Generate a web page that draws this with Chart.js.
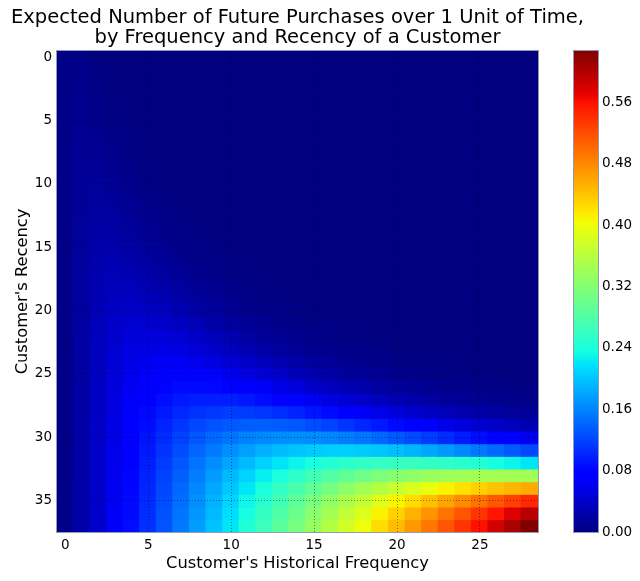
<!DOCTYPE html>
<html><head><meta charset="utf-8">
<script src="https://cdn.jsdelivr.net/npm/chart.js@4.4.1/dist/chart.umd.min.js"></script>
<style>
html,body{margin:0;padding:0;background:#fff;}
#wrap{position:relative;width:640px;height:581px;overflow:hidden;}
#main{position:absolute;left:0;top:0;}
#cbar{position:absolute;left:560px;top:0;}
</style></head><body>
<div id="wrap"><canvas id="main" width="640" height="581"></canvas><canvas id="cbar" width="80" height="581"></canvas></div>
<script>
// Customer's Historical Frequency (columns) and Customer's Recency (rows)
const frequencies = [0,1,2,3,4,5,6,7,8,9,10,11,12,13,14,15,16,17,18,19,20,21,22,23,24,25,26,27,28];
const recencies = [0,1,2,3,4,5,6,7,8,9,10,11,12,13,14,15,16,17,18,19,20,21,22,23,24,25,26,27,28,29,30,31,32,33,34,35,36,37];

// Expected purchases, one array per recency row (frequency 0..28)
const r0  = [.006,.005,.001,0,0,0,0,0,0,0,0,0,0,0,0,0,0,0,0,0,0,0,0,0,0,0,0,0,0];
const r1  = [.006,.006,.002,.001,0,0,0,0,0,0,0,0,0,0,0,0,0,0,0,0,0,0,0,0,0,0,0,0,0];
const r2  = [.006,.007,.003,.001,0,0,0,0,0,0,0,0,0,0,0,0,0,0,0,0,0,0,0,0,0,0,0,0,0];
const r3  = [.006,.008,.004,.001,0,0,0,0,0,0,0,0,0,0,0,0,0,0,0,0,0,0,0,0,0,0,0,0,0];
const r4  = [.006,.009,.005,.002,.001,0,0,0,0,0,0,0,0,0,0,0,0,0,0,0,0,0,0,0,0,0,0,0,0];
const r5  = [.006,.009,.007,.003,.001,0,0,0,0,0,0,0,0,0,0,0,0,0,0,0,0,0,0,0,0,0,0,0,0];
const r6  = [.006,.010,.008,.004,.002,.001,0,0,0,0,0,0,0,0,0,0,0,0,0,0,0,0,0,0,0,0,0,0,0];
const r7  = [.006,.011,.010,.006,.003,.001,0,0,0,0,0,0,0,0,0,0,0,0,0,0,0,0,0,0,0,0,0,0,0];
const r8  = [.006,.012,.011,.007,.004,.002,.001,0,0,0,0,0,0,0,0,0,0,0,0,0,0,0,0,0,0,0,0,0,0];
const r9  = [.006,.012,.013,.009,.005,.002,.001,0,0,0,0,0,0,0,0,0,0,0,0,0,0,0,0,0,0,0,0,0,0];
const r10 = [.006,.013,.015,.011,.007,.003,.002,.001,0,0,0,0,0,0,0,0,0,0,0,0,0,0,0,0,0,0,0,0,0];
const r11 = [.006,.014,.016,.013,.008,.005,.002,.001,.001,0,0,0,0,0,0,0,0,0,0,0,0,0,0,0,0,0,0,0,0];
const r12 = [.006,.014,.018,.016,.011,.007,.004,.002,.001,0,0,0,0,0,0,0,0,0,0,0,0,0,0,0,0,0,0,0,0];
const r13 = [.006,.015,.020,.018,.013,.009,.005,.003,.001,.001,0,0,0,0,0,0,0,0,0,0,0,0,0,0,0,0,0,0,0];
const r14 = [.006,.015,.021,.021,.016,.011,.007,.004,.002,.001,.001,0,0,0,0,0,0,0,0,0,0,0,0,0,0,0,0,0,0];
const r15 = [.006,.016,.023,.023,.020,.015,.010,.006,.004,.002,.001,.001,0,0,0,0,0,0,0,0,0,0,0,0,0,0,0,0,0];
const r16 = [.006,.016,.024,.026,.023,.018,.013,.009,.005,.003,.002,.001,.001,0,0,0,0,0,0,0,0,0,0,0,0,0,0,0,0];
const r17 = [.006,.017,.025,.029,.027,.023,.017,.012,.008,.005,.003,.002,.001,.001,0,0,0,0,0,0,0,0,0,0,0,0,0,0,0];
const r18 = [.006,.017,.027,.032,.031,.027,.022,.016,.011,.008,.005,.003,.002,.001,.001,0,0,0,0,0,0,0,0,0,0,0,0,0,0];
const r19 = [.006,.017,.028,.034,.035,.032,.027,.021,.016,.011,.008,.005,.003,.002,.001,.001,.001,0,0,0,0,0,0,0,0,0,0,0,0];
const r20 = [.006,.018,.029,.037,.039,.038,.034,.028,.021,.016,.011,.008,.005,.004,.002,.002,.001,.001,0,0,0,0,0,0,0,0,0,0,0];
const r21 = [.006,.018,.031,.039,.044,.044,.040,.035,.029,.022,.017,.012,.009,.006,.004,.003,.002,.001,.001,.001,0,0,0,0,0,0,0,0,0];
const r22 = [.006,.019,.032,.042,.048,.050,.048,.043,.037,.031,.024,.019,.014,.010,.007,.005,.004,.003,.002,.001,.001,.001,0,0,0,0,0,0,0];
const r23 = [.006,.019,.033,.044,.052,.055,.056,.053,.047,.041,.034,.027,.021,.016,.012,.009,.007,.005,.004,.003,.002,.001,.001,.001,0,0,0,0,0];
const r24 = [.006,.019,.034,.046,.055,.061,.064,.063,.059,.053,.046,.039,.032,.026,.020,.016,.012,.009,.007,.005,.004,.003,.002,.002,.001,.001,.001,0,0];
const r25 = [.006,.019,.035,.048,.059,.067,.071,.073,.071,.067,.061,.054,.046,.039,.032,.026,.021,.016,.013,.010,.008,.006,.004,.003,.003,.002,.001,.001,.001];
const r26 = [.006,.020,.035,.050,.062,.072,.079,.083,.084,.082,.077,.071,.064,.056,.049,.041,.034,.028,.023,.018,.015,.012,.009,.007,.006,.004,.003,.003,.002];
const r27 = [.006,.020,.036,.052,.065,.077,.086,.093,.096,.097,.096,.092,.086,.079,.071,.063,.054,.047,.040,.033,.028,.023,.019,.015,.012,.010,.008,.006,.005];
const r28 = [.006,.020,.037,.053,.068,.082,.093,.102,.109,.113,.115,.114,.111,.106,.099,.091,.083,.074,.065,.057,.050,.042,.036,.030,.026,.021,.018,.015,.012];
const r29 = [.006,.020,.038,.055,.071,.086,.099,.111,.121,.128,.133,.136,.137,.135,.131,.126,.119,.111,.102,.093,.084,.075,.067,.058,.051,.044,.038,.033,.028];
const r30 = [.006,.021,.039,.056,.073,.090,.105,.119,.131,.142,.151,.158,.162,.165,.166,.164,.161,.156,.150,.142,.133,.124,.115,.105,.095,.086,.077,.069,.061];
const r31 = [.006,.021,.039,.058,.076,.093,.110,.126,.141,.154,.166,.177,.186,.194,.199,.203,.205,.205,.203,.200,.195,.189,.181,.173,.163,.153,.143,.133,.122];
const r32 = [.006,.021,.040,.059,.078,.096,.115,.132,.149,.165,.180,.194,.207,.219,.229,.239,.246,.252,.257,.260,.261,.261,.259,.256,.251,.245,.237,.229,.220];
const r33 = [.006,.021,.040,.060,.080,.099,.119,.137,.156,.174,.192,.208,.225,.240,.255,.269,.281,.293,.304,.314,.322,.329,.335,.340,.343,.345,.345,.344,.342];
const r34 = [.006,.022,.041,.061,.081,.102,.122,.142,.162,.182,.201,.220,.239,.257,.275,.292,.309,.326,.342,.357,.371,.385,.398,.410,.421,.432,.442,.450,.458];
const r35 = [.006,.022,.041,.062,.083,.104,.125,.146,.167,.188,.209,.230,.250,.270,.291,.311,.330,.350,.369,.388,.407,.425,.443,.461,.478,.495,.512,.528,.544];
const r36 = [.006,.022,.042,.063,.084,.106,.128,.150,.171,.193,.215,.237,.259,.280,.302,.324,.345,.367,.388,.410,.431,.452,.473,.494,.515,.536,.556,.577,.597];
const r37 = [.006,.022,.042,.064,.086,.108,.130,.153,.175,.198,.220,.243,.265,.288,.311,.333,.356,.379,.401,.424,.446,.469,.492,.514,.537,.559,.582,.604,.627];

// Tick labels
const xTicks = [0,5,10,15,20,25];
const yTicks = [0,5,10,15,20,25,30,35];
const cbTicks = [0,0.08,0.16,0.24,0.32,0.40,0.48,0.56];

const titleLines = ['Expected Number of Future Purchases over 1 Unit of Time,', 'by Frequency and Recency of a Customer'];
const xTitle = "Customer's Historical Frequency";
const yTitle = "Customer's Recency";

const rows = [r0,r1,r2,r3,r4,r5,r6,r7,r8,r9,r10,r11,r12,r13,r14,r15,r16,r17,r18,r19,r20,r21,r22,r23,r24,r25,r26,r27,r28,r29,r30,r31,r32,r33,r34,r35,r36,r37];
const vmax = Math.max(...rows.map(r => Math.max(...r)));
const FONT = "'DejaVu Sans', sans-serif";

// matplotlib "jet" colormap
const JET = {
  r: [[0,0],[0.35,0],[0.66,1],[0.89,1],[1,0.5]],
  g: [[0,0],[0.125,0],[0.375,1],[0.64,1],[0.91,0],[1,0]],
  b: [[0,0.5],[0.11,1],[0.34,1],[0.65,0],[1,0]]
};
function seg(pts, t) {
  for (let i = 1; i < pts.length; i++) {
    if (t <= pts[i][0]) {
      const [x0,y0] = pts[i-1], [x1,y1] = pts[i];
      return y0 + (y1 - y0) * (t - x0) / (x1 - x0);
    }
  }
  return pts[pts.length-1][1];
}
function jet(t) {
  t = Math.max(0, Math.min(1, t));
  return `rgb(${Math.round(255*seg(JET.r,t))},${Math.round(255*seg(JET.g,t))},${Math.round(255*seg(JET.b,t))})`;
}

const frame = {
  id: 'frame',
  afterDraw(chart) {
    const {ctx, chartArea: a} = chart;
    ctx.save();
    ctx.strokeStyle = 'rgba(110,120,150,0.75)';
    ctx.lineWidth = 1;
    ctx.strokeRect(Math.round(a.left) - 0.5, Math.round(a.top) - 0.5, Math.round(a.right - a.left) + 1, Math.round(a.bottom - a.top) + 1);
    ctx.restore();
  }
};

const datasets = rows.map((row, ri) => ({
  data: row.map((v, fi) => ({ x: frequencies[fi], y: [recencies[ri] - 0.5, recencies[ri] + 0.5], v: v })),
  backgroundColor: (c) => jet(c.raw ? c.raw.v / vmax : 0),
  borderWidth: 0,
  inflateAmount: 0.8,
  grouped: false,
  barPercentage: 1,
  categoryPercentage: 1
}));

const gridColor = 'rgba(0,0,0,0.55)';

new Chart(document.getElementById('main'), {
  type: 'bar',
  data: { datasets },
  options: {
    responsive: false,
    animation: false,
    events: [],
    layout: { padding: { left: 0, right: 45, top: 0, bottom: 0 } },
    plugins: {
      legend: { display: false },
      tooltip: { enabled: false },
      title: {
        display: true,
        text: titleLines,
        color: '#000',
        fullSize: true,
        font: { family: FONT, size: 19.5, weight: 'normal', lineHeight: 1.03 },
        padding: { top: 7.8, bottom: 3 }
      }
    },
    scales: {
      x: {
        type: 'linear',
        min: -0.5, max: 28.5,
        offset: false,
        afterFit(s) { s.height = 49; },
        afterBuildTicks(s) { s.ticks = xTicks.map(v => ({ value: v })); },
        grid: { offset: false, color: gridColor, lineWidth: 0.8, drawTicks: false, z: 1 },
        border: { display: false, dash: [1, 2] },
        ticks: { color: '#000', font: { family: FONT, size: 13.5 }, padding: 5, maxRotation: 0, autoSkip: false },
        title: { display: true, text: xTitle, color: '#000', font: { family: FONT, size: 16.3 }, padding: { top: 0, bottom: 7 } }
      },
      y: {
        type: 'linear',
        reverse: true,
        min: -0.5, max: 37.5,
        afterFit(s) { s.width = 57; },
        afterBuildTicks(s) { s.ticks = yTicks.map(v => ({ value: v })); },
        grid: { color: gridColor, lineWidth: 0.8, drawTicks: false, z: 1 },
        border: { display: false, dash: [1, 2] },
        ticks: { color: '#000', font: { family: FONT, size: 13.5 }, padding: 5, autoSkip: false },
        title: { display: true, text: yTitle, color: '#000', font: { family: FONT, size: 16.3 }, padding: { top: 13, bottom: 0 } }
      },
      ySpace: {
        type: 'linear',
        position: 'right',
        afterFit(s) { s.width = 57; },
        grid: { display: false, drawOnChartArea: false, drawTicks: false },
        border: { display: false },
        ticks: { display: false }
      }
    }
  },
  plugins: [frame]
});

// Colorbar
const jetStops = [0, 0.11, 0.125, 0.34, 0.35, 0.375, 0.64, 0.65, 0.66, 0.89, 0.91, 1];
new Chart(document.getElementById('cbar'), {
  type: 'bar',
  data: {
    labels: [''],
    datasets: [{
      data: [[0, vmax]],
      backgroundColor: (c) => {
        const a = c.chart.chartArea;
        if (!a) return jet(0.5);
        const g = c.chart.ctx.createLinearGradient(0, a.bottom, 0, a.top);
        jetStops.forEach(s => g.addColorStop(s, jet(s)));
        return g;
      },
      borderWidth: 0,
      barPercentage: 1,
      categoryPercentage: 1
    }]
  },
  options: {
    responsive: false,
    animation: false,
    events: [],
    layout: { padding: { left: 14, right: 0, top: 51, bottom: 49 } },
    plugins: { legend: { display: false }, tooltip: { enabled: false } },
    scales: {
      x: { display: false },
      y: {
        position: 'right',
        min: 0, max: vmax,
        afterFit(s) { s.width = 42; },
        afterBuildTicks(s) { s.ticks = cbTicks.map(v => ({ value: v })); },
        grid: { display: false, drawTicks: false },
        border: { display: false },
        ticks: { color: '#000', font: { family: FONT, size: 13.5 }, padding: 4, callback: (v) => Number(v).toFixed(2) }
      }
    }
  },
  plugins: [frame]
});
</script>
</body></html>
